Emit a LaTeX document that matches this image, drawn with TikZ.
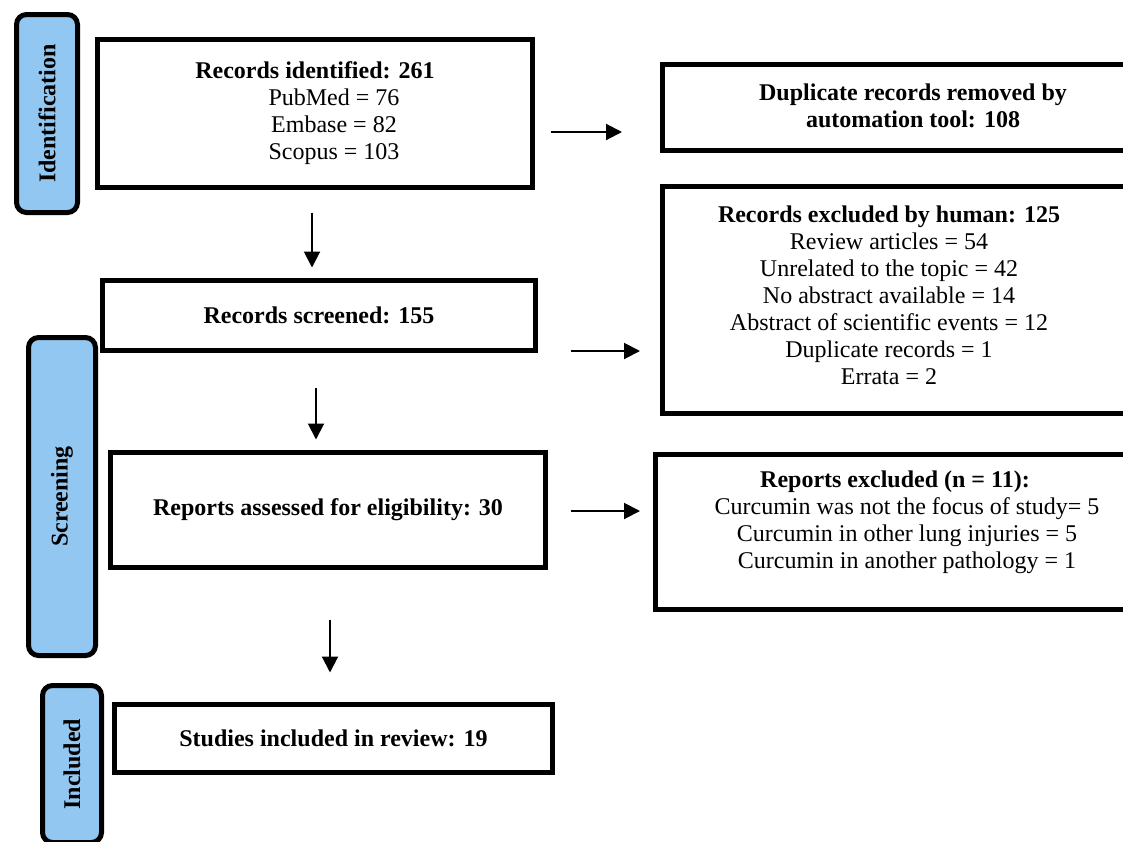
\documentclass[tikz,border=0pt]{standalone}
\usepackage{fontspec}
\setmainfont{Liberation Serif}
\usetikzlibrary{positioning,arrows.meta}
\definecolor{phaseblue}{RGB}{146,199,242}

\begin{document}
\begin{tikzpicture}[x=0.5pt,y=-0.5pt]
        \tikzstyle{box}=[draw,line width=2.5pt,rectangle,inner sep=0pt,align=center,font=\fontsize{12}{13.5}\selectfont]
        \tikzstyle{phase}=[draw,line width=2.5pt,rectangle,rounded corners=5pt,fill=phaseblue,inner sep=0pt,rotate=90,font=\fontsize{12}{13.5}\selectfont\bfseries]
        \tikzstyle{txt}=[align=center,inner sep=0pt,font=\fontsize{12}{13.5}\selectfont]
        \tikzstyle{arr}=[line width=1pt,-{Triangle[length=8pt,width=8pt]}]

        \clip (0,0) rectangle (1123,841);

        % phases
        \node[phase,minimum width=99pt,minimum height=30.5pt] (ident) at (47,113.5) {Identification};
        \node[phase,minimum width=159pt,minimum height=33.5pt] (screen) at (62,496.5) {Screening};
        \node[phase,minimum width=78.5pt,minimum height=29.5pt] (incl) at (72,764) {Included};

        % main column
        \node[box,minimum width=217.5pt,minimum height=74pt] (rec) at (315,113.5) {\textbf{Records identified: 261}\\\hspace*{19pt}PubMed = 76\\\hspace*{19pt}Embase = 82\\\hspace*{19pt}Scopus = 103};
        \node[box,minimum width=216.5pt,minimum height=35pt] (scr) at (319,315.5) {\textbf{Records screened: 155}};
        \node[box,minimum width=217.5pt,minimum height=57.5pt] (ass) at (328,510) {\textbf{Reports assessed for eligibility: 30}};
        \node[box,minimum width=219pt,minimum height=34pt] (inc) at (333.5,738.5) {\textbf{Studies included in review: 19}};

        % excluded column
        \node[box,anchor=west,minimum width=270pt,minimum height=43pt] (dup) at (659.5,107.5) {};
        \node[box,anchor=west,minimum width=270pt,minimum height=113.5pt] (excl) at (659.5,300) {};
        \node[box,anchor=west,minimum width=270pt,minimum height=77.5pt] (rep) at (652.5,532) {};
        \node[txt] (duptxt) at (913,105.5) {\textbf{Duplicate records removed by}\\\textbf{automation tool: 108}};
        \node[txt] (excltxt) at (889,295.5) {\textbf{Records excluded by human: 125}\\Review articles = 54\\Unrelated to the topic = 42\\No abstract available = 14\\Abstract of scientific events = 12\\Duplicate records = 1\\Errata = 2};
        \node[txt] (reptxt) at (907,522) {\hspace*{-12pt}\textbf{Reports excluded (n = 11):}\\Curcumin was not the focus of study= 5\\Curcumin in other lung injuries = 5\\Curcumin in another pathology = 1};

        \draw[arr] ([xshift=-1.5pt,yshift=-11.25pt]rec.south) -- ([xshift=-3.5pt,yshift=5.25pt]scr.north);
        \draw[arr] ([xshift=-1.5pt,yshift=-17.25pt]scr.south) -- ([xshift=-6pt,yshift=5.25pt]ass.north);
        \draw[arr] ([xshift=1pt,yshift=-24.75pt]ass.south) -- ([xshift=-1.75pt,yshift=14.75pt]inc.north);
        \draw[arr] ([xshift=7.75pt,yshift=-9.25pt]rec.east) -- ([xshift=-18.75pt,yshift=-12.25pt]dup.west);
        \draw[arr] ([xshift=16.25pt,yshift=-17.75pt]scr.east) -- ([xshift=-9.75pt,yshift=-25.5pt]excl.west);
        \draw[arr] ([xshift=11.25pt,yshift=-0.5pt]ass.east) -- ([xshift=-6.25pt,yshift=10.5pt]rep.west);
    \end{tikzpicture}
\end{document}
